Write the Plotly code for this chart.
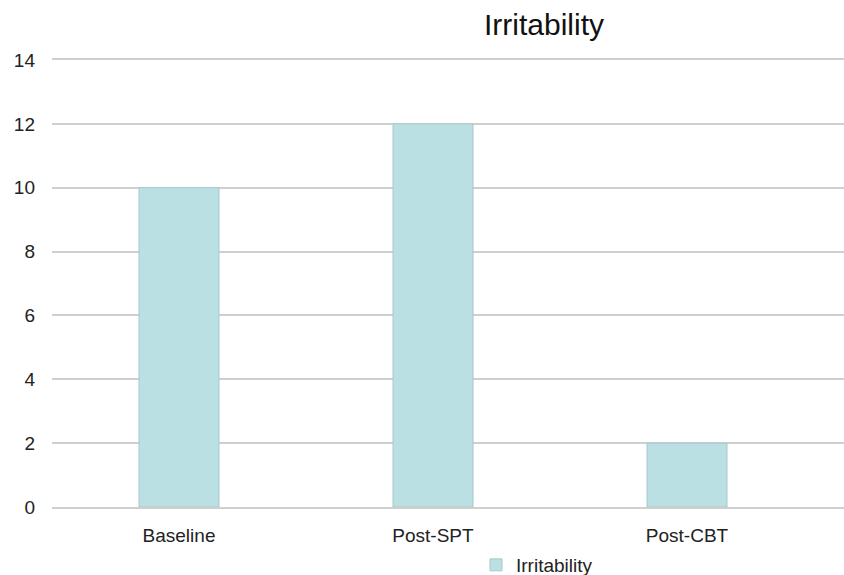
import plotly.graph_objects as go

# Irritability scores at each assessment point
categories = ["Baseline", "Post-SPT", "Post-CBT"]
irritability = [10, 12, 2]
y_ticks = [0, 2, 4, 6, 8, 10, 12, 14]

FONT = "Liberation Sans, Arial, sans-serif"
BAR_COLOR = "#bae0e3"
GRID_COLOR = "#cfcfcf"

fig = go.Figure()
fig.add_trace(go.Bar(
    x=categories,
    y=irritability,
    name="Irritability",
    width=0.315,
    marker=dict(color=BAR_COLOR, line=dict(color="#a8c8cb", width=1)),
))

fig.update_layout(
    width=844,
    height=575,
    paper_bgcolor="white",
    plot_bgcolor="white",
    margin=dict(l=52, r=0, t=60, b=68, autoexpand=False),
    font=dict(family=FONT, size=19, color="#222222"),
    title=dict(
        text="Irritability",
        font=dict(family=FONT, size=30, color="#111111"),
        xref="container", x=544 / 844, xanchor="center",
        yref="container", y=1 - 24 / 575, yanchor="middle",
    ),
    showlegend=True,
    legend=dict(
        orientation="h",
        xref="container", x=476 / 844, xanchor="left",
        yref="container", y=1 - 565 / 575, yanchor="middle",
        font=dict(family=FONT, size=19, color="#222222"),
        bgcolor="rgba(0,0,0,0)",
    ),
    xaxis=dict(
        type="category",
        range=[-0.5, 2.618],
        showgrid=False,
        # bottom baseline plus the matching top rule at the 14 gridline
        showline=True,
        mirror=True,
        linecolor=GRID_COLOR,
        linewidth=2,
        zeroline=False,
        ticks="",
        ticklabelstandoff=10,
        tickfont=dict(family=FONT, size=19, color="#222222"),
    ),
    yaxis=dict(
        range=[0, 14],
        tickvals=y_ticks,
        showgrid=True,
        gridcolor=GRID_COLOR,
        gridwidth=2,
        zeroline=False,
        showline=False,
        ticks="",
        ticklabelstandoff=16,
        tickfont=dict(family=FONT, size=19, color="#222222"),
    ),
)

fig.write_html("out.html")
